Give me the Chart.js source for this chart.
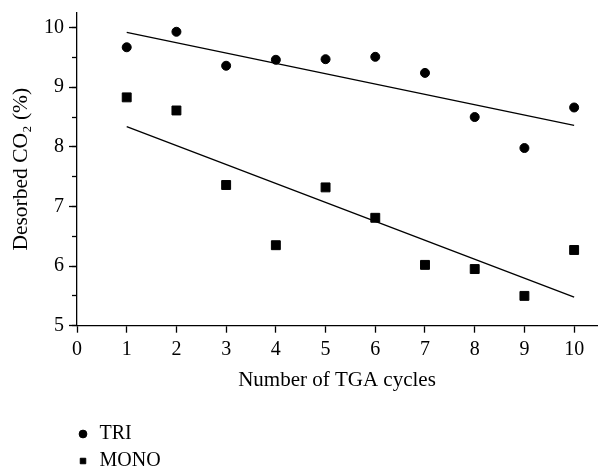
<!DOCTYPE html>
<html>
<head>
<meta charset="utf-8">
<script src="https://cdn.jsdelivr.net/npm/chart.js@4.4.1/dist/chart.umd.min.js"></script>
<style>
  html, body { margin: 0; padding: 0; background: #fff; }
  #wrap { width: 598px; height: 469px; }
</style>
</head>
<body>
<div id="wrap"><canvas id="c" width="598" height="469"></canvas></div>
<script>
const cycles = [1, 2, 3, 4, 5, 6, 7, 8, 9, 10];
const triValues = [9.67, 9.93, 9.36, 9.46, 9.47, 9.51, 9.24, 8.50, 7.98, 8.66];
const monoValues = [8.83, 8.61, 7.36, 6.35, 7.32, 6.81, 6.02, 5.95, 5.50, 6.27];
const fitX = [1, 10];
const triFit = [9.92, 8.36];
const monoFit = [8.34, 5.48];
const xTicks = [0, 1, 2, 3, 4, 5, 6, 7, 8, 9, 10];
const yTicks = [5, 6, 7, 8, 9, 10];
const yMinorTicks = [5, 5.5, 6, 6.5, 7, 7.5, 8, 8.5, 9, 9.5, 10];
const seriesNames = ['TRI', 'MONO'];
const xTitle = 'Number of TGA cycles';
const yTitle = 'Desorbed CO\u2082 (%)';

const FONT = 'Liberation Serif, Times New Roman, serif';
const toPts = (xs, ys) => xs.map((x, i) => ({ x: x, y: ys[i] }));
const noPad = (s) => { s.paddingLeft = 0; s.paddingRight = 0; s.paddingTop = 0; s.paddingBottom = 0; };

const legendPlacer = {
  id: 'legendPlacer',
  afterLayout(chart) {
    const lg = chart.legend;
    if (!lg) return;
    const w = lg.width, h = lg.height;
    lg.left = chart.chartArea.left - 7.5;
    lg.top = chart.height - 52;
    lg.right = lg.left + w;
    lg.bottom = lg.top + h;
  }
};

new Chart(document.getElementById('c'), {
  type: 'scatter',
  data: {
    datasets: [
      { label: seriesNames[0], data: toPts(cycles, triValues), pointStyle: 'circle', pointRadius: 4.5, backgroundColor: '#000', borderColor: '#000', borderWidth: 1 },
      { label: seriesNames[1], data: toPts(cycles, monoValues), pointStyle: 'rect', pointRadius: 6.3, backgroundColor: '#000', borderColor: '#000', borderWidth: 1 },
      { label: 'fit-tri', data: toPts(fitX, triFit), showLine: true, pointRadius: 0, borderColor: '#000', borderWidth: 1.3, fill: false },
      { label: 'fit-mono', data: toPts(fitX, monoFit), showLine: true, pointRadius: 0, borderColor: '#000', borderWidth: 1.3, fill: false }
    ]
  },
  options: {
    responsive: false,
    animation: false,
    events: [],
    layout: { autoPadding: false, padding: { top: 12.7, right: 1, bottom: 0, left: 0 } },
    plugins: {
      tooltip: { enabled: false },
      legend: {
        position: 'chartArea',
        align: 'start',
        labels: {
          usePointStyle: true, boxWidth: 13, boxHeight: 5.5, padding: 7, color: '#000',
          font: { family: FONT, size: 20 },
          filter: (item) => seriesNames.includes(item.text)
        }
      }
    },
    scales: {
      x: {
        type: 'linear', min: 0, max: 10.46,
        afterBuildTicks: (s) => { s.ticks = xTicks.map(v => ({ value: v })); },
        afterFit: (s) => { s.height = 143.3; noPad(s); },
        ticks: { color: '#000', padding: 5, maxRotation: 0, font: { family: FONT, size: 20 }, callback: (v) => String(v) },
        grid: { drawOnChartArea: false, tickLength: 7, tickColor: '#000', tickWidth: 1.3 },
        border: { color: '#000', width: 1.3 },
        title: { display: true, text: xTitle, color: '#000', font: { family: FONT, size: 21 }, padding: { top: 0, bottom: 76 } }
      },
      y: {
        type: 'linear', position: 'left', weight: 1, min: 5, max: 10.25,
        afterBuildTicks: (s) => { s.ticks = yTicks.map(v => ({ value: v })); },
        afterFit: (s) => { s.width = 77; noPad(s); },
        ticks: { color: '#000', padding: 5, font: { family: FONT, size: 20 }, callback: (v) => String(v) },
        grid: { drawOnChartArea: false, tickLength: 8, tickColor: '#000', tickWidth: 1.3 },
        border: { color: '#000', width: 1.3 },
        title: { display: true, text: yTitle, color: '#000', font: { family: FONT, size: 21.5 }, padding: { top: 8, bottom: 0 } }
      },
      yMinor: {
        type: 'linear', position: 'left', weight: 0, min: 5, max: 10.25,
        afterBuildTicks: (s) => { s.ticks = yMinorTicks.map(v => ({ value: v })); },
        afterFit: (s) => { s.width = 0; noPad(s); },
        ticks: { display: false },
        grid: { drawOnChartArea: false, tickLength: 5, tickColor: '#000', tickWidth: 1.3 },
        border: { display: false }
      }
    }
  },
  plugins: [legendPlacer]
});
</script>
</body>
</html>
